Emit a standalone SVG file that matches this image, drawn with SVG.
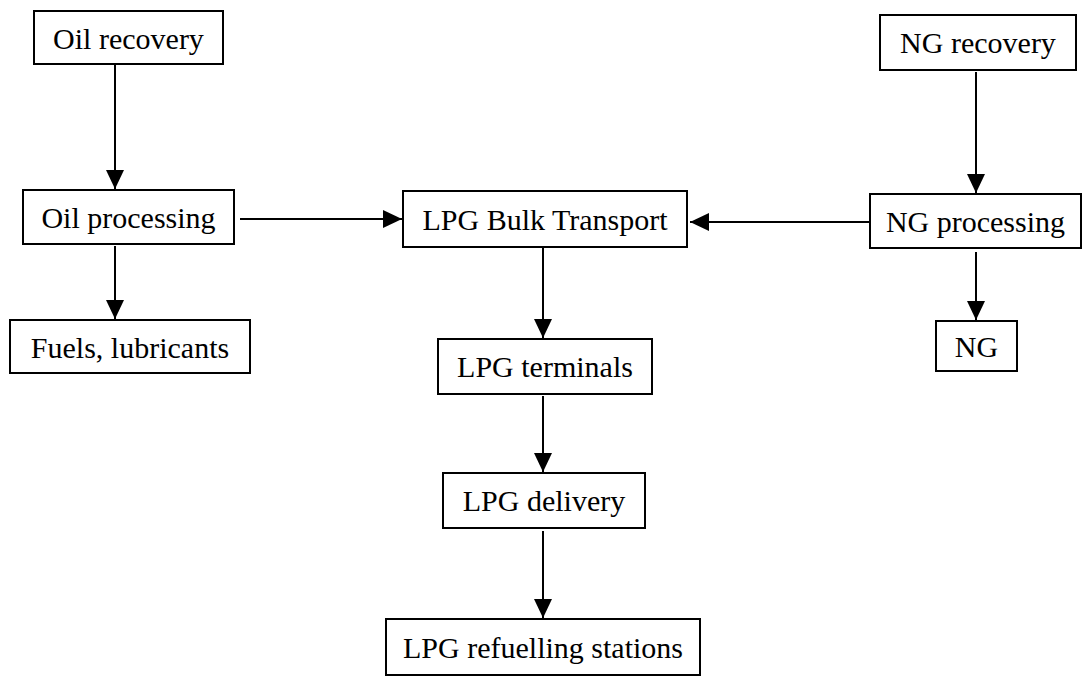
<svg xmlns="http://www.w3.org/2000/svg" width="1083" height="677" viewBox="0 0 1083 677">
<style>
.box{fill:#fff;stroke:#000;stroke-width:2}
.lbl{font-family:"Liberation Serif","Times New Roman",serif;font-size:30px;fill:#000;text-anchor:middle}
.con{stroke:#000;stroke-width:2;fill:none;marker-end:url(#ah)}
</style>
<defs>
<marker id="ah" markerUnits="userSpaceOnUse" markerWidth="20" markerHeight="18" refX="19" refY="9" orient="auto">
<path d="M0,0 L19,9 L0,18 Z" fill="#000"/>
</marker>
</defs>
<rect width="1083" height="677" fill="#fff"/>
<g id="connectors">
<line class="con" x1="115" y1="65" x2="115" y2="189"/>
<line class="con" x1="240" y1="219" x2="402" y2="219"/>
<line class="con" x1="115" y1="246" x2="115" y2="319"/>
<line class="con" x1="976" y1="72" x2="976" y2="193"/>
<line class="con" x1="870" y1="222" x2="690" y2="222"/>
<line class="con" x1="976" y1="252" x2="976" y2="320"/>
<line class="con" x1="543" y1="248" x2="543" y2="338"/>
<line class="con" x1="543" y1="396" x2="543" y2="472"/>
<line class="con" x1="543" y1="531" x2="543" y2="618"/>
</g>
<g id="oil-recovery"><rect class="box" x="34" y="11" width="189" height="53"/><text class="lbl" x="128.5" y="49">Oil recovery</text></g>
<g id="oil-processing"><rect class="box" x="23" y="190" width="211" height="54"/><text class="lbl" x="128.5" y="228">Oil processing</text></g>
<g id="fuels"><rect class="box" x="10" y="320" width="240" height="53"/><text class="lbl" x="130" y="358">Fuels, lubricants</text></g>
<g id="ng-recovery"><rect class="box" x="880" y="15" width="196" height="55"/><text class="lbl" x="978" y="53">NG recovery</text></g>
<g id="ng-processing"><rect class="box" x="870" y="194" width="211" height="54"/><text class="lbl" x="975.5" y="232">NG processing</text></g>
<g id="ng"><rect class="box" x="936" y="321" width="81" height="50"/><text class="lbl" x="976.5" y="357">NG</text></g>
<g id="lpg-bulk"><rect class="box" x="403" y="191" width="284" height="56"/><text class="lbl" x="545" y="230">LPG Bulk Transport</text></g>
<g id="lpg-terminals"><rect class="box" x="438" y="339" width="214" height="55"/><text class="lbl" x="545" y="377">LPG terminals</text></g>
<g id="lpg-delivery"><rect class="box" x="443" y="473" width="202" height="55"/><text class="lbl" x="544" y="511">LPG delivery</text></g>
<g id="lpg-stations"><rect class="box" x="386" y="619" width="314" height="56"/><text class="lbl" x="543" y="658">LPG refuelling stations</text></g>
</svg>
